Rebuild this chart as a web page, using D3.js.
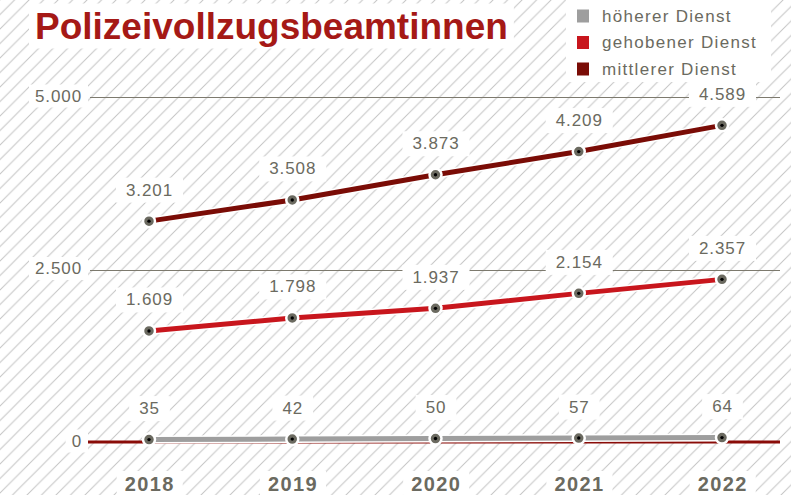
<!DOCTYPE html>
<html>
<head>
<meta charset="utf-8">
<script src="https://cdn.jsdelivr.net/npm/d3@7"></script>
<style>
  html, body { margin: 0; padding: 0; background: #fff; }
  svg { display: block; font-family: "Liberation Sans", Arial, sans-serif; }
</style>
</head>
<body>
<svg id="chart" width="791" height="495"></svg>
<script>
// Data
const years = ["2018", "2019", "2020", "2021", "2022"];
const hoehererDienst = [35, 42, 50, 57, 64];
const gehobenerDienst = [1609, 1798, 1937, 2154, 2357];
const mittlererDienst = [3201, 3508, 3873, 4209, 4589];
const yTicks = [0, 2500, 5000];
const seriesNames = ["höherer Dienst", "gehobener Dienst", "mittlerer Dienst"];
const seriesColors = ["#9e9e9e", "#c8161d", "#7a0c06"];
const titleText = "Polizeivollzugsbeamtinnen";

const W = 791, H = 495;
const textGrey = "#6b6a60";
const svg = d3.select("#chart");
const fmt = d3.formatLocale({ decimal: ",", thousands: ".", grouping: [3], currency: ["", "€"] }).format(",d");

// Diagonal hatch background
const defs = svg.append("defs");
const pat = defs.append("pattern")
  .attr("id", "hatch").attr("patternUnits", "userSpaceOnUse")
  .attr("width", 14.5).attr("height", 14.5);
pat.append("path").attr("d", "M-1,15.5 L15.5,-1 M-8,8 L8,-8 M6.5,22.5 L22.5,6.5")
  .attr("stroke", "#c4c4c4").attr("stroke-width", 1).attr("fill", "none");
svg.append("rect").attr("width", W).attr("height", H).attr("fill", "#fff");
svg.append("rect").attr("width", W).attr("height", H).attr("fill", "url(#hatch)");

const x = d3.scalePoint().domain(years).range([149, 722]);
const y = d3.scaleLinear().domain([0, 5000]).range([442, 97]);

// helper: text on a white box
function boxedText(g, tx, ty, str, opts) {
  const t = g.append("text").attr("x", tx).attr("y", ty).text(str)
    .attr("font-size", opts.size).attr("fill", opts.fill)
    .attr("font-weight", opts.weight || "normal")
    .attr("letter-spacing", opts.spacing || 0)
    .attr("text-anchor", opts.anchor || "middle")
    .attr("dominant-baseline", "central");
  const bb = t.node().getBBox();
  g.insert("rect", "text")
    .attr("x", bb.x - opts.padX).attr("y", bb.y - opts.padY)
    .attr("width", bb.width + 2 * opts.padX).attr("height", bb.height + 2 * opts.padY)
    .attr("fill", "#fff");
  return t;
}

// Grid lines
const grid = svg.append("g");
grid.selectAll("line").data(yTicks.filter(d => d > 0)).join("line")
  .attr("x1", 90).attr("x2", 780)
  .attr("y1", d => Math.round(y(d)) + 0.5).attr("y2", d => Math.round(y(d)) + 0.5)
  .attr("stroke", "#7d7a6e").attr("stroke-width", 1);
grid.append("line")
  .attr("x1", 88).attr("x2", 780).attr("y1", y(0)).attr("y2", y(0))
  .attr("stroke", "#8a0c08").attr("stroke-width", 3);

// Y tick labels
const yLab = svg.append("g");
yTicks.forEach(v => {
  boxedText(yLab.append("g"), 82, y(v) - 1, fmt(v),
    { size: 17, fill: textGrey, anchor: "end", spacing: 0.9, padX: 6, padY: 2 });
});

// Series
const series = [hoehererDienst, gehobenerDienst, mittlererDienst];
const line = d3.line().x((d, i) => x(years[i])).y(d => y(d));
const seriesG = svg.append("g");
series.forEach((vals, si) => {
  seriesG.append("path").datum(vals).attr("d", line)
    .attr("fill", "none").attr("stroke", "#fff").attr("stroke-width", 8);
  seriesG.append("path").datum(vals).attr("d", line)
    .attr("fill", "none").attr("stroke", seriesColors[si]).attr("stroke-width", 5);
});
series.forEach((vals) => {
  const mk = seriesG.append("g");
  mk.selectAll("circle.m").data(vals).join("circle").attr("class", "m")
    .attr("cx", (d, i) => x(years[i])).attr("cy", d => y(d)).attr("r", 6)
    .attr("fill", "#6b6a60").attr("stroke", "#fff").attr("stroke-width", 2.5);
  mk.selectAll("circle.c").data(vals).join("circle").attr("class", "c")
    .attr("cx", (d, i) => x(years[i])).attr("cy", d => y(d)).attr("r", 1.7)
    .attr("fill", "#000");
});

// Value labels
const valG = svg.append("g");
series.forEach((vals) => {
  vals.forEach((v, i) => {
    boxedText(valG.append("g"), x(years[i]) + 0.5, y(v) - 31, fmt(v),
      { size: 17, fill: textGrey, spacing: 0.9, padX: 10, padY: 3 });
  });
});

// Year labels
const xLab = svg.append("g");
years.forEach(yr => {
  boxedText(xLab.append("g"), x(yr) + 0.7, 484, yr,
    { size: 20, fill: textGrey, weight: "bold", spacing: 1.4, padX: 8, padY: 2 });
});

// Title
boxedText(svg.append("g"), 35, 26, titleText,
  { size: 37, fill: "#a51916", weight: "bold", anchor: "start", padX: 6, padY: 2 });

// Legend
const leg = svg.append("g");
leg.append("rect").attr("x", 566).attr("y", 0).attr("width", 205).attr("height", 82).attr("fill", "#fff");
seriesNames.forEach((name, i) => {
  const cy = 16 + i * 26.5;
  leg.append("rect").attr("x", 577).attr("y", cy - 6.5).attr("width", 12).attr("height", 13)
    .attr("fill", seriesColors[i]);
  leg.append("text").attr("x", 602).attr("y", cy).attr("dominant-baseline", "central")
    .attr("font-size", 17).attr("letter-spacing", 1.3).attr("fill", textGrey).text(name);
});
</script>
</body>
</html>
